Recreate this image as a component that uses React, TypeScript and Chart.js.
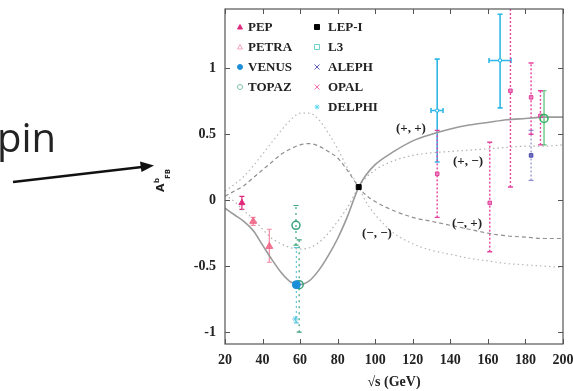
import React, { useEffect, useRef } from 'react';
import { Chart, registerables } from 'chart.js';

Chart.register(...registerables);

// ---------- axis ticks ----------
const X_TICKS = [20, 40, 60, 80, 100, 120, 140, 160, 180, 200];
const Y_TICKS = [-1, -0.5, 0, 0.5, 1];

// ---------- theory curves ----------
const CURVE_X = [20, 25, 30, 35, 40, 45, 50, 55, 60, 65, 70, 75, 80, 85, 91.2, 95, 100, 110, 120, 130, 140, 150, 160, 170, 180, 190, 200];
const CURVE_PP = [-0.06, -0.11, -0.16, -0.23, -0.34, -0.45, -0.55, -0.62, -0.64, -0.61, -0.53, -0.42, -0.29, -0.13, 0.1, 0.19, 0.27, 0.37, 0.45, 0.5, 0.54, 0.57, 0.59, 0.61, 0.62, 0.63, 0.63];
const CURVE_PM = [0.04, -0.01, -0.08, -0.14, -0.22, -0.29, -0.33, -0.36, -0.37, -0.36, -0.32, -0.25, -0.16, -0.06, 0.1, 0.17, 0.23, 0.3, 0.34, 0.36, 0.37, 0.38, 0.39, 0.4, 0.41, 0.41, 0.42];
const CURVE_MP = [0.03, 0.07, 0.11, 0.17, 0.23, 0.29, 0.35, 0.39, 0.42, 0.43, 0.41, 0.37, 0.32, 0.23, 0.1, 0.04, -0.01, -0.08, -0.13, -0.16, -0.19, -0.22, -0.25, -0.27, -0.28, -0.29, -0.29];
const CURVE_MM = [0.07, 0.12, 0.18, 0.26, 0.35, 0.44, 0.53, 0.61, 0.66, 0.66, 0.61, 0.51, 0.39, 0.25, 0.1, -0.01, -0.11, -0.25, -0.33, -0.38, -0.41, -0.44, -0.46, -0.48, -0.49, -0.5, -0.51];

// ---------- measurements ----------
const PEP_X = [29];
const PEP_Y = [-0.02];
const PEP_LO = [-0.07];
const PEP_HI = [0.03];

const PETRA_X = [35, 43.6];
const PETRA_Y = [-0.16, -0.35];
const PETRA_LO = [-0.19, -0.47];
const PETRA_HI = [-0.13, -0.22];

const VENUS_X = [58];
const VENUS_Y = [-0.64];
const VENUS_LO = [-0.93];
const VENUS_HI = [-0.36];

const TOPAZ_X = [57.8, 59.5];
const TOPAZ_Y = [-0.19, -0.64];
const TOPAZ_LO = [-0.34, -1.0];
const TOPAZ_HI = [-0.04, -0.3];

const LEP1_X = [91.2];
const LEP1_Y = [0.1];

const L3_X = [133, 166.5];
const L3_Y = [0.68, 1.06];
const L3_LO = [0.29, 0.7];
const L3_HI = [1.07, 1.41];
const L3_XLO = [129.7, 160.6];
const L3_XHI = [136.1, 172.3];

const L3B_X = [189.9];
const L3B_Y = [0.62];
const L3B_LO = [0.42];
const L3B_HI = [0.83];

const ALEPH_X = [183];
const ALEPH_Y = [0.34];
const ALEPH_LO = [0.15];
const ALEPH_HI = [0.53];

const OPAL_X = [133, 161, 172, 183, 188];
const OPAL_Y = [0.2, -0.02, 0.83, 0.78, 0.64];
const OPAL_LO = [-0.13, -0.39, 0.1, 0.5, 0.42];
const OPAL_HI = [0.53, 0.44, 1.5, 1.04, 0.83];

const DELPHI_X = [57.5];
const DELPHI_Y = [-0.9];

const pts = (xs: number[], ys: number[]) => xs.map((x, i) => ({ x, y: ys[i] }));

const SERIF = '"Liberation Serif", "Times New Roman", serif';

function drawMarker(ctx: CanvasRenderingContext2D, style: string, x: number, y: number, r: number, fill: string | null, stroke: string) {
  ctx.save();
  ctx.beginPath();
  if (style === 'triangle') {
    ctx.moveTo(x, y - r);
    ctx.lineTo(x + r, y + r * 0.8);
    ctx.lineTo(x - r, y + r * 0.8);
    ctx.closePath();
  } else if (style === 'circle') {
    ctx.arc(x, y, r, 0, Math.PI * 2);
  } else if (style === 'rect') {
    ctx.rect(x - r, y - r, 2 * r, 2 * r);
  } else if (style === 'cross') {
    ctx.moveTo(x - r, y - r); ctx.lineTo(x + r, y + r);
    ctx.moveTo(x + r, y - r); ctx.lineTo(x - r, y + r);
  } else if (style === 'star') {
    ctx.moveTo(x - r, y); ctx.lineTo(x + r, y);
    ctx.moveTo(x, y - r); ctx.lineTo(x, y + r);
    ctx.moveTo(x - r * 0.7, y - r * 0.7); ctx.lineTo(x + r * 0.7, y + r * 0.7);
    ctx.moveTo(x + r * 0.7, y - r * 0.7); ctx.lineTo(x - r * 0.7, y + r * 0.7);
  }
  if (fill) { ctx.fillStyle = fill; ctx.fill(); }
  ctx.strokeStyle = stroke;
  ctx.lineWidth = 1;
  ctx.stroke();
  ctx.restore();
}

const errorBarPlugin = {
  id: 'errorBars',
  beforeDatasetsDraw(chart: any) {
    const { ctx, chartArea: a, scales } = chart;
    const xs = scales.x, ys = scales.y;
    ctx.save();
    ctx.beginPath();
    ctx.rect(a.left, a.top, a.right - a.left, a.bottom - a.top);
    ctx.clip();
    chart.data.datasets.forEach((ds: any) => {
      if (!ds.errLo) return;
      ctx.strokeStyle = ds.errColor || ds.borderColor;
      ctx.lineWidth = ds.errWidth || 1.2;
      ctx.setLineDash(ds.errDash || []);
      ds.data.forEach((p: any, i: number) => {
        const px = xs.getPixelForValue(p.x);
        const lo = ys.getPixelForValue(ds.errLo[i]);
        const hi = ys.getPixelForValue(ds.errHi[i]);
        ctx.beginPath();
        ctx.moveTo(px, lo); ctx.lineTo(px, hi);
        ctx.stroke();
        ctx.setLineDash([]);
        const cw = ds.capWidth ?? 2.5;
        ctx.beginPath();
        ctx.moveTo(px - cw, lo); ctx.lineTo(px + cw, lo);
        ctx.moveTo(px - cw, hi); ctx.lineTo(px + cw, hi);
        if (ds.xLo) {
          const py = ys.getPixelForValue(p.y);
          const l = xs.getPixelForValue(ds.xLo[i]);
          const r = xs.getPixelForValue(ds.xHi[i]);
          ctx.moveTo(l, py); ctx.lineTo(r, py);
          ctx.moveTo(l, py - 2.5); ctx.lineTo(l, py + 2.5);
          ctx.moveTo(r, py - 2.5); ctx.lineTo(r, py + 2.5);
        }
        ctx.stroke();
        ctx.setLineDash(ds.errDash || []);
      });
      ctx.setLineDash([]);
    });
    ctx.restore();
  },
};

const LEGEND_LEFT = [
  { label: 'PEP', style: 'triangle', fill: '#e0287c', stroke: '#e0287c' },
  { label: 'PETRA', style: 'triangle', fill: null, stroke: '#f4a0b8' },
  { label: 'VENUS', style: 'circle', fill: '#1a8ed6', stroke: '#1a8ed6' },
  { label: 'TOPAZ', style: 'circle', fill: null, stroke: '#7cc0a8' },
];
const LEGEND_RIGHT = [
  { label: 'LEP-I', style: 'rect', fill: '#000', stroke: '#000' },
  { label: 'L3', style: 'rect', fill: null, stroke: '#6ad0c8' },
  { label: 'ALEPH', style: 'cross', fill: null, stroke: '#6060b8' },
  { label: 'OPAL', style: 'cross', fill: null, stroke: '#f070b0' },
  { label: 'DELPHI', style: 'star', fill: null, stroke: '#60d8f0' },
];

const decorPlugin = {
  id: 'decor',
  afterDraw(chart: any) {
    const { ctx, chartArea: a, scales } = chart;
    const xs = scales.x, ys = scales.y;
    ctx.save();
    // frame
    ctx.strokeStyle = '#555';
    ctx.lineWidth = 1.2;
    ctx.strokeRect(a.left, a.top, a.right - a.left, a.bottom - a.top);
    // inward ticks
    ctx.lineWidth = 1;
    ctx.beginPath();
    X_TICKS.forEach((v) => {
      const px = Math.round(xs.getPixelForValue(v)) + 0.5;
      ctx.moveTo(px, a.bottom); ctx.lineTo(px, a.bottom - 5);
      ctx.moveTo(px, a.top); ctx.lineTo(px, a.top + 5);
    });
    Y_TICKS.forEach((v) => {
      const py = Math.round(ys.getPixelForValue(v)) + 0.5;
      ctx.moveTo(a.left, py); ctx.lineTo(a.left + 5, py);
      ctx.moveTo(a.right, py); ctx.lineTo(a.right - 5, py);
    });
    ctx.stroke();

    // legend
    ctx.font = `bold 13px ${SERIF}`;
    ctx.fillStyle = '#222';
    ctx.textBaseline = 'middle';
    ctx.textAlign = 'left';
    LEGEND_LEFT.forEach((it, i) => {
      const y = a.top + 18 + i * 20;
      drawMarker(ctx, it.style, a.left + 15, y, 2.5, it.fill, it.stroke);
      ctx.fillStyle = '#222';
      ctx.fillText(it.label, a.left + 23, y + 1);
    });
    LEGEND_RIGHT.forEach((it, i) => {
      const y = a.top + 18 + i * 20;
      drawMarker(ctx, it.style, a.left + 92, y, 2.5, it.fill, it.stroke);
      ctx.fillStyle = '#222';
      ctx.fillText(it.label, a.left + 103, y + 1);
    });

    // curve labels
    ctx.font = `bold 13px ${SERIF}`;
    ctx.textAlign = 'center';
    ctx.fillStyle = '#222';
    const lab = (t: string, vx: number, vy: number) => ctx.fillText(t, xs.getPixelForValue(vx), ys.getPixelForValue(vy));
    lab('(+, +)', 119, 0.54);
    lab('(+, \u2212)', 149.4, 0.295);
    lab('(\u2212, \u2212)', 100.9, -0.25);
    lab('(\u2212, +)', 148.9, -0.175);

    // y axis title A^b_FB
    ctx.save();
    ctx.translate(164, 192);
    ctx.rotate(-Math.PI / 2);
    ctx.textAlign = 'left';
    ctx.textBaseline = 'alphabetic';
    ctx.fillStyle = '#222';
    ctx.font = 'bold 11px "DejaVu Sans", sans-serif';
    ctx.fillText('A', 0, 0);
    ctx.font = 'bold 7px "DejaVu Sans", sans-serif';
    ctx.fillText('b', 9, -5);
    ctx.fillText('FB', 13, 6);
    ctx.restore();

    // "pin" text and arrow (slide decoration)
    ctx.fillStyle = '#222';
    ctx.font = '400 40px "Open Sans", "Noto Sans", sans-serif';
    ctx.textAlign = 'left';
    ctx.textBaseline = 'alphabetic';
    ctx.fillText('pin', -3, 152);

    ctx.strokeStyle = '#111';
    ctx.fillStyle = '#111';
    ctx.lineWidth = 2.5;
    ctx.beginPath();
    ctx.moveTo(13, 182);
    ctx.lineTo(142, 167);
    ctx.stroke();
    ctx.beginPath();
    ctx.moveTo(154, 165.5);
    ctx.lineTo(140, 161.5);
    ctx.lineTo(141.5, 172);
    ctx.closePath();
    ctx.fill();

    ctx.restore();
  },
};

export default function App() {
  const ref = useRef<HTMLCanvasElement | null>(null);

  useEffect(() => {
    if (!ref.current) return;
    const curve = (data: number[], color: string, dash: number[], width: number) => ({
      type: 'line' as const,
      data: pts(CURVE_X, data),
      borderColor: color,
      borderWidth: width,
      borderDash: dash,
      pointRadius: 0,
      showLine: true,
      fill: false,
      cubicInterpolationMode: 'monotone' as const,
    });

    const chart = new Chart(ref.current, {
      type: 'scatter',
      data: {
        datasets: [
          { label: 'LEP-I', data: pts(LEP1_X, LEP1_Y), pointStyle: 'rect', pointRadius: 3.5, backgroundColor: '#000', borderColor: '#000' },
          { label: 'PEP', data: pts(PEP_X, PEP_Y), pointStyle: 'triangle', pointRadius: 3.5, backgroundColor: '#e0287c', borderColor: '#e0287c',
            errLo: PEP_LO, errHi: PEP_HI, errColor: '#e0287c' } as any,
          { label: 'PETRA', data: pts(PETRA_X, PETRA_Y), pointStyle: 'triangle', pointRadius: 4, backgroundColor: 'rgba(240,100,130,0.85)', borderColor: '#f06a8a',
            errLo: PETRA_LO, errHi: PETRA_HI, errColor: '#f28aa4' } as any,
          { label: 'VENUS', data: pts(VENUS_X, VENUS_Y), pointStyle: 'circle', pointRadius: 4, backgroundColor: '#1a8ed6', borderColor: '#1a8ed6',
            errLo: VENUS_LO, errHi: VENUS_HI, errColor: '#5cc8e0', errDash: [2, 3] } as any,
          { label: 'TOPAZ', data: pts(TOPAZ_X, TOPAZ_Y), pointStyle: 'circle', pointRadius: 4, backgroundColor: 'rgba(255,255,255,0)', borderColor: '#3aa07a', borderWidth: 1.5,
            errLo: TOPAZ_LO, errHi: TOPAZ_HI, errColor: '#3aa07a', errDash: [2, 4] } as any,
          { label: 'DELPHI', data: pts(DELPHI_X, DELPHI_Y), pointStyle: 'star', pointRadius: 3, backgroundColor: '#5cc8e0', borderColor: '#5cc8e0' },
          { label: 'L3', data: pts(L3_X, L3_Y), pointStyle: 'rect', pointRadius: 2, backgroundColor: '#fff', borderColor: '#2fb8e6',
            errLo: L3_LO, errHi: L3_HI, xLo: L3_XLO, xHi: L3_XHI, errColor: '#2fb8e6', errWidth: 1.6 } as any,
          { label: 'L3b', data: pts(L3B_X, L3B_Y), pointStyle: 'circle', pointRadius: 4, backgroundColor: 'rgba(255,255,255,0)', borderColor: '#30b060', borderWidth: 1.5,
            errLo: L3B_LO, errHi: L3B_HI, errColor: '#50c070' } as any,
          { label: 'ALEPH', data: pts(ALEPH_X, ALEPH_Y), pointStyle: 'rect', pointRadius: 2.5, backgroundColor: '#7070c8', borderColor: '#4848a8',
            errLo: ALEPH_LO, errHi: ALEPH_HI, errColor: '#9090d0', errDash: [2, 2] } as any,
          { label: 'OPAL', data: pts(OPAL_X, OPAL_Y), pointStyle: 'rect', pointRadius: 2.5, backgroundColor: '#f080c0', borderColor: '#e0409a',
            errLo: OPAL_LO, errHi: OPAL_HI, errColor: '#e8409e', errDash: [2, 2], errWidth: 1.4 } as any,
          curve(CURVE_PP, '#9a9a9a', [], 1.6),
          curve(CURVE_PM, '#b0b0b0', [1.5, 3], 1.2),
          curve(CURVE_MP, '#909090', [4, 3], 1.2),
          curve(CURVE_MM, '#b8b8b8', [1.5, 3], 1.2),
        ] as any,
      },
      options: {
        responsive: false,
        maintainAspectRatio: false,
        devicePixelRatio: 1,
        animation: false,
        layout: { padding: { left: 0, right: 10, top: 9, bottom: 0 } },
        plugins: {
          legend: { display: false },
          tooltip: { enabled: false },
        },
        scales: {
          x: {
            type: 'linear',
            min: 20,
            max: 200,
            grid: { display: false, drawTicks: false },
            border: { display: false },
            ticks: {
              stepSize: 20,
              padding: 8,
              color: '#222',
              font: { family: SERIF, size: 14, weight: 'bold' },
              callback: (v: any) => String(v),
            },
            title: {
              display: true,
              text: '\u221As (GeV)',
              color: '#222',
              font: { family: SERIF, size: 14, weight: 'bold' },
              padding: { top: 0, bottom: 0 },
            },
            afterFit: (s: any) => { s.height = 47; s.paddingLeft = 0; s.paddingRight = 0; },
          },
          y: {
            type: 'linear',
            min: -1.09,
            max: 1.45,
            grid: { display: false, drawTicks: false },
            border: { display: false },
            ticks: {
              stepSize: 0.5,
              includeBounds: false,
              padding: 9,
              color: '#222',
              font: { family: SERIF, size: 14, weight: 'bold' },
              callback: (v: any) => String(v),
            },
            afterFit: (s: any) => { s.width = 225; s.paddingTop = 0; s.paddingBottom = 0; },
          },
        },
      } as any,
      plugins: [errorBarPlugin, decorPlugin],
    });
    return () => chart.destroy();
  }, []);

  return (
    <div style={{ position: 'absolute', left: 0, top: 0, width: 573, height: 391, background: '#fff' }}>
      <canvas ref={ref} width={573} height={391} style={{ display: 'block' }} />
    </div>
  );
}
